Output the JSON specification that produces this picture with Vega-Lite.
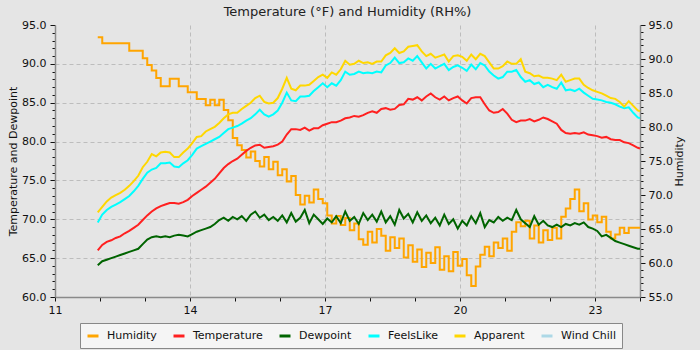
{
  "$schema": "https://vega.github.io/schema/vega-lite/v6.json",
  "width": 585,
  "height": 272,
  "autosize": "none",
  "padding": {"left": 55, "top": 25, "right": 60, "bottom": 53},
  "background": "#e5e5e5",
  "title": {"text": "Temperature (°F) and Humidity (RH%)", "font": "DejaVu Sans", "fontSize": 13, "fontWeight": "normal", "color": "#222222", "anchor": "middle", "offset": 0},
  "data": {"values": [
    {"t":11.95,"Humidity":93.2,"Temperature":66.0,"Dewpoint":64.1,"FeelsLike":69.6,"Apparent":70.9},
    {"t":12.05,"Humidity":92.3,"Temperature":66.7,"Dewpoint":64.6,"FeelsLike":70.6,"Apparent":71.6},
    {"t":12.15,"Humidity":92.3,"Temperature":67.1,"Dewpoint":64.8,"FeelsLike":71.2,"Apparent":72.3},
    {"t":12.25,"Humidity":92.3,"Temperature":67.3,"Dewpoint":65.0,"FeelsLike":71.6,"Apparent":72.8},
    {"t":12.35,"Humidity":92.3,"Temperature":67.6,"Dewpoint":65.2,"FeelsLike":71.9,"Apparent":73.1},
    {"t":12.45,"Humidity":92.3,"Temperature":67.8,"Dewpoint":65.4,"FeelsLike":72.2,"Apparent":73.4},
    {"t":12.55,"Humidity":92.3,"Temperature":68.2,"Dewpoint":65.6,"FeelsLike":72.6,"Apparent":73.8},
    {"t":12.65,"Humidity":91.2,"Temperature":68.5,"Dewpoint":65.8,"FeelsLike":73.0,"Apparent":74.3},
    {"t":12.75,"Humidity":91.2,"Temperature":68.9,"Dewpoint":66.0,"FeelsLike":73.6,"Apparent":74.9},
    {"t":12.85,"Humidity":91.2,"Temperature":69.3,"Dewpoint":66.2,"FeelsLike":74.3,"Apparent":75.6},
    {"t":12.95,"Humidity":90.1,"Temperature":69.9,"Dewpoint":66.8,"FeelsLike":75.2,"Apparent":76.7},
    {"t":13.05,"Humidity":89.1,"Temperature":70.5,"Dewpoint":67.4,"FeelsLike":76.0,"Apparent":77.4},
    {"t":13.15,"Humidity":88.3,"Temperature":71.0,"Dewpoint":67.7,"FeelsLike":76.4,"Apparent":78.4},
    {"t":13.25,"Humidity":87.2,"Temperature":71.4,"Dewpoint":67.8,"FeelsLike":76.6,"Apparent":78.1},
    {"t":13.35,"Humidity":86.0,"Temperature":71.7,"Dewpoint":67.7,"FeelsLike":77.2,"Apparent":78.6},
    {"t":13.45,"Humidity":86.0,"Temperature":71.9,"Dewpoint":67.8,"FeelsLike":77.2,"Apparent":78.7},
    {"t":13.55,"Humidity":87.1,"Temperature":72.1,"Dewpoint":67.7,"FeelsLike":77.3,"Apparent":78.6},
    {"t":13.65,"Humidity":87.1,"Temperature":72.1,"Dewpoint":67.9,"FeelsLike":76.8,"Apparent":78.0},
    {"t":13.75,"Humidity":86.0,"Temperature":72.0,"Dewpoint":68.0,"FeelsLike":76.7,"Apparent":78.0},
    {"t":13.85,"Humidity":86.0,"Temperature":72.2,"Dewpoint":67.9,"FeelsLike":77.2,"Apparent":78.6},
    {"t":13.95,"Humidity":85.1,"Temperature":72.5,"Dewpoint":67.8,"FeelsLike":77.6,"Apparent":79.1},
    {"t":14.05,"Humidity":85.1,"Temperature":73.0,"Dewpoint":68.1,"FeelsLike":78.3,"Apparent":79.8},
    {"t":14.15,"Humidity":84.1,"Temperature":73.4,"Dewpoint":68.4,"FeelsLike":79.1,"Apparent":80.6},
    {"t":14.25,"Humidity":84.1,"Temperature":73.8,"Dewpoint":68.6,"FeelsLike":79.4,"Apparent":80.7},
    {"t":14.35,"Humidity":83.2,"Temperature":74.2,"Dewpoint":68.8,"FeelsLike":79.7,"Apparent":81.3},
    {"t":14.45,"Humidity":84.0,"Temperature":74.7,"Dewpoint":69.0,"FeelsLike":80.0,"Apparent":81.6},
    {"t":14.55,"Humidity":83.2,"Temperature":75.2,"Dewpoint":69.4,"FeelsLike":80.3,"Apparent":81.9},
    {"t":14.65,"Humidity":84.0,"Temperature":75.9,"Dewpoint":69.9,"FeelsLike":80.6,"Apparent":82.4},
    {"t":14.75,"Humidity":82.5,"Temperature":76.6,"Dewpoint":70.2,"FeelsLike":81.1,"Apparent":83.0},
    {"t":14.85,"Humidity":81.0,"Temperature":77.1,"Dewpoint":69.8,"FeelsLike":81.6,"Apparent":83.5},
    {"t":14.95,"Humidity":78.4,"Temperature":77.5,"Dewpoint":70.3,"FeelsLike":81.8,"Apparent":83.7},
    {"t":15.05,"Humidity":77.3,"Temperature":77.8,"Dewpoint":70.0,"FeelsLike":82.0,"Apparent":83.7},
    {"t":15.15,"Humidity":76.6,"Temperature":78.3,"Dewpoint":70.4,"FeelsLike":82.3,"Apparent":84.2},
    {"t":15.25,"Humidity":75.5,"Temperature":78.8,"Dewpoint":69.8,"FeelsLike":82.7,"Apparent":84.6},
    {"t":15.35,"Humidity":76.4,"Temperature":79.2,"Dewpoint":70.6,"FeelsLike":83.0,"Apparent":85.0},
    {"t":15.45,"Humidity":75.0,"Temperature":79.5,"Dewpoint":71.0,"FeelsLike":83.5,"Apparent":85.6},
    {"t":15.55,"Humidity":74.2,"Temperature":79.6,"Dewpoint":70.2,"FeelsLike":84.1,"Apparent":85.9},
    {"t":15.65,"Humidity":75.6,"Temperature":79.2,"Dewpoint":70.6,"FeelsLike":83.5,"Apparent":85.1},
    {"t":15.75,"Humidity":73.8,"Temperature":79.3,"Dewpoint":69.9,"FeelsLike":83.2,"Apparent":84.9},
    {"t":15.85,"Humidity":74.9,"Temperature":79.4,"Dewpoint":70.3,"FeelsLike":83.5,"Apparent":85.0},
    {"t":15.95,"Humidity":72.9,"Temperature":79.6,"Dewpoint":69.8,"FeelsLike":84.0,"Apparent":85.6},
    {"t":16.05,"Humidity":73.8,"Temperature":80.0,"Dewpoint":70.5,"FeelsLike":85.0,"Apparent":86.8},
    {"t":16.15,"Humidity":72.0,"Temperature":80.9,"Dewpoint":69.6,"FeelsLike":86.3,"Apparent":88.2},
    {"t":16.25,"Humidity":72.8,"Temperature":81.6,"Dewpoint":70.8,"FeelsLike":85.3,"Apparent":86.8},
    {"t":16.35,"Humidity":70.0,"Temperature":81.6,"Dewpoint":69.7,"FeelsLike":85.2,"Apparent":86.6},
    {"t":16.45,"Humidity":68.6,"Temperature":81.5,"Dewpoint":70.2,"FeelsLike":85.8,"Apparent":87.2},
    {"t":16.55,"Humidity":69.9,"Temperature":81.8,"Dewpoint":71.2,"FeelsLike":85.8,"Apparent":87.2},
    {"t":16.65,"Humidity":68.9,"Temperature":81.4,"Dewpoint":69.5,"FeelsLike":85.9,"Apparent":87.3},
    {"t":16.75,"Humidity":70.8,"Temperature":81.7,"Dewpoint":70.6,"FeelsLike":86.5,"Apparent":87.8},
    {"t":16.85,"Humidity":69.4,"Temperature":81.7,"Dewpoint":70.0,"FeelsLike":87.0,"Apparent":88.3},
    {"t":16.95,"Humidity":68.8,"Temperature":82.1,"Dewpoint":69.4,"FeelsLike":87.5,"Apparent":88.6},
    {"t":17.05,"Humidity":67.0,"Temperature":82.3,"Dewpoint":70.1,"FeelsLike":87.0,"Apparent":88.2},
    {"t":17.15,"Humidity":65.8,"Temperature":82.5,"Dewpoint":69.6,"FeelsLike":87.5,"Apparent":88.9},
    {"t":17.25,"Humidity":66.9,"Temperature":82.5,"Dewpoint":70.4,"FeelsLike":87.2,"Apparent":88.6},
    {"t":17.35,"Humidity":65.6,"Temperature":82.7,"Dewpoint":69.5,"FeelsLike":87.9,"Apparent":89.3},
    {"t":17.45,"Humidity":66.6,"Temperature":83.0,"Dewpoint":71.0,"FeelsLike":89.0,"Apparent":90.4},
    {"t":17.55,"Humidity":64.8,"Temperature":83.1,"Dewpoint":69.8,"FeelsLike":88.6,"Apparent":89.9},
    {"t":17.65,"Humidity":65.8,"Temperature":83.3,"Dewpoint":70.3,"FeelsLike":88.7,"Apparent":90.0},
    {"t":17.75,"Humidity":63.5,"Temperature":83.2,"Dewpoint":69.4,"FeelsLike":89.0,"Apparent":90.4},
    {"t":17.85,"Humidity":62.7,"Temperature":83.4,"Dewpoint":70.8,"FeelsLike":88.8,"Apparent":90.1},
    {"t":17.95,"Humidity":64.6,"Temperature":83.7,"Dewpoint":69.9,"FeelsLike":88.9,"Apparent":90.2},
    {"t":18.05,"Humidity":63.0,"Temperature":83.9,"Dewpoint":70.6,"FeelsLike":88.8,"Apparent":90.0},
    {"t":18.15,"Humidity":65.0,"Temperature":83.7,"Dewpoint":69.7,"FeelsLike":89.0,"Apparent":90.3},
    {"t":18.25,"Humidity":64.0,"Temperature":84.2,"Dewpoint":71.0,"FeelsLike":88.9,"Apparent":90.3},
    {"t":18.35,"Humidity":61.8,"Temperature":84.3,"Dewpoint":69.6,"FeelsLike":89.8,"Apparent":91.1},
    {"t":18.45,"Humidity":63.8,"Temperature":84.1,"Dewpoint":70.4,"FeelsLike":90.1,"Apparent":91.4},
    {"t":18.55,"Humidity":62.2,"Temperature":84.2,"Dewpoint":69.3,"FeelsLike":90.8,"Apparent":92.0},
    {"t":18.65,"Humidity":63.6,"Temperature":84.7,"Dewpoint":71.2,"FeelsLike":90.1,"Apparent":91.4},
    {"t":18.75,"Humidity":60.8,"Temperature":84.8,"Dewpoint":70.1,"FeelsLike":90.2,"Apparent":91.6},
    {"t":18.85,"Humidity":62.6,"Temperature":85.5,"Dewpoint":70.7,"FeelsLike":90.7,"Apparent":92.2},
    {"t":18.95,"Humidity":60.2,"Temperature":85.4,"Dewpoint":69.6,"FeelsLike":90.4,"Apparent":92.3},
    {"t":19.05,"Humidity":62.0,"Temperature":85.7,"Dewpoint":70.9,"FeelsLike":91.0,"Apparent":92.4},
    {"t":19.15,"Humidity":59.4,"Temperature":85.3,"Dewpoint":69.8,"FeelsLike":90.2,"Apparent":91.6},
    {"t":19.25,"Humidity":61.5,"Temperature":85.8,"Dewpoint":70.5,"FeelsLike":89.4,"Apparent":91.0},
    {"t":19.35,"Humidity":60.0,"Temperature":86.2,"Dewpoint":69.5,"FeelsLike":90.0,"Apparent":91.3},
    {"t":19.45,"Humidity":62.3,"Temperature":85.7,"Dewpoint":70.2,"FeelsLike":89.4,"Apparent":90.8},
    {"t":19.55,"Humidity":59.0,"Temperature":85.4,"Dewpoint":69.2,"FeelsLike":89.7,"Apparent":91.0},
    {"t":19.65,"Humidity":61.0,"Temperature":85.8,"Dewpoint":70.6,"FeelsLike":90.0,"Apparent":91.2},
    {"t":19.75,"Humidity":58.8,"Temperature":85.3,"Dewpoint":69.4,"FeelsLike":89.2,"Apparent":90.3},
    {"t":19.85,"Humidity":61.6,"Temperature":85.6,"Dewpoint":70.0,"FeelsLike":89.6,"Apparent":91.0},
    {"t":19.95,"Humidity":59.6,"Temperature":85.8,"Dewpoint":68.8,"FeelsLike":89.8,"Apparent":91.1},
    {"t":20.05,"Humidity":60.6,"Temperature":85.3,"Dewpoint":69.8,"FeelsLike":89.5,"Apparent":90.9},
    {"t":20.15,"Humidity":58.2,"Temperature":84.9,"Dewpoint":69.2,"FeelsLike":89.1,"Apparent":90.4},
    {"t":20.25,"Humidity":56.6,"Temperature":85.6,"Dewpoint":70.4,"FeelsLike":89.9,"Apparent":91.2},
    {"t":20.35,"Humidity":59.5,"Temperature":85.7,"Dewpoint":69.5,"FeelsLike":89.3,"Apparent":90.6},
    {"t":20.45,"Humidity":61.2,"Temperature":85.7,"Dewpoint":70.8,"FeelsLike":90.1,"Apparent":91.3},
    {"t":20.55,"Humidity":62.4,"Temperature":84.8,"Dewpoint":69.0,"FeelsLike":89.8,"Apparent":91.0},
    {"t":20.65,"Humidity":61.0,"Temperature":84.0,"Dewpoint":69.9,"FeelsLike":89.0,"Apparent":90.2},
    {"t":20.75,"Humidity":63.0,"Temperature":83.7,"Dewpoint":69.6,"FeelsLike":88.5,"Apparent":89.4},
    {"t":20.85,"Humidity":62.2,"Temperature":83.8,"Dewpoint":70.3,"FeelsLike":88.1,"Apparent":89.4},
    {"t":20.95,"Humidity":63.6,"Temperature":84.2,"Dewpoint":69.8,"FeelsLike":88.3,"Apparent":89.7},
    {"t":21.05,"Humidity":61.8,"Temperature":83.6,"Dewpoint":70.2,"FeelsLike":89.0,"Apparent":90.3},
    {"t":21.15,"Humidity":64.6,"Temperature":82.8,"Dewpoint":69.9,"FeelsLike":89.0,"Apparent":90.0},
    {"t":21.25,"Humidity":66.0,"Temperature":82.5,"Dewpoint":71.2,"FeelsLike":89.2,"Apparent":90.0},
    {"t":21.35,"Humidity":65.4,"Temperature":82.7,"Dewpoint":70.0,"FeelsLike":88.3,"Apparent":90.6},
    {"t":21.45,"Humidity":66.2,"Temperature":82.7,"Dewpoint":69.5,"FeelsLike":87.7,"Apparent":89.0},
    {"t":21.55,"Humidity":63.6,"Temperature":82.9,"Dewpoint":69.0,"FeelsLike":87.9,"Apparent":88.8},
    {"t":21.65,"Humidity":65.5,"Temperature":82.6,"Dewpoint":70.4,"FeelsLike":87.4,"Apparent":88.4},
    {"t":21.75,"Humidity":63.0,"Temperature":82.8,"Dewpoint":69.3,"FeelsLike":87.6,"Apparent":88.5},
    {"t":21.85,"Humidity":64.8,"Temperature":83.1,"Dewpoint":69.8,"FeelsLike":87.0,"Apparent":88.2},
    {"t":21.95,"Humidity":63.4,"Temperature":82.9,"Dewpoint":69.2,"FeelsLike":87.3,"Apparent":88.2},
    {"t":22.05,"Humidity":65.2,"Temperature":82.6,"Dewpoint":69.0,"FeelsLike":87.0,"Apparent":88.1},
    {"t":22.15,"Humidity":63.6,"Temperature":82.3,"Dewpoint":69.3,"FeelsLike":86.8,"Apparent":87.9},
    {"t":22.25,"Humidity":66.8,"Temperature":81.5,"Dewpoint":69.0,"FeelsLike":87.6,"Apparent":88.6},
    {"t":22.35,"Humidity":68.0,"Temperature":81.1,"Dewpoint":69.4,"FeelsLike":86.6,"Apparent":87.7},
    {"t":22.45,"Humidity":69.4,"Temperature":81.0,"Dewpoint":69.2,"FeelsLike":86.7,"Apparent":87.9},
    {"t":22.55,"Humidity":70.8,"Temperature":81.1,"Dewpoint":69.5,"FeelsLike":86.5,"Apparent":88.1},
    {"t":22.65,"Humidity":67.6,"Temperature":81.0,"Dewpoint":69.3,"FeelsLike":86.8,"Apparent":88.1},
    {"t":22.75,"Humidity":68.8,"Temperature":81.2,"Dewpoint":69.6,"FeelsLike":86.3,"Apparent":87.3},
    {"t":22.85,"Humidity":66.4,"Temperature":80.9,"Dewpoint":69.0,"FeelsLike":85.9,"Apparent":86.9},
    {"t":22.95,"Humidity":67.0,"Temperature":80.8,"Dewpoint":68.8,"FeelsLike":85.5,"Apparent":86.6},
    {"t":23.05,"Humidity":66.0,"Temperature":80.7,"Dewpoint":68.5,"FeelsLike":85.4,"Apparent":86.4},
    {"t":23.15,"Humidity":66.8,"Temperature":80.5,"Dewpoint":67.8,"FeelsLike":85.3,"Apparent":86.2},
    {"t":23.25,"Humidity":64.6,"Temperature":80.6,"Dewpoint":68.0,"FeelsLike":85.1,"Apparent":85.9},
    {"t":23.35,"Humidity":63.6,"Temperature":80.3,"Dewpoint":67.6,"FeelsLike":85.0,"Apparent":85.6},
    {"t":23.45,"Humidity":64.2,"Temperature":80.2,"Dewpoint":67.2,"FeelsLike":84.8,"Apparent":85.5},
    {"t":23.55,"Humidity":65.2,"Temperature":80.2,"Dewpoint":67.0,"FeelsLike":84.5,"Apparent":85.1},
    {"t":23.65,"Humidity":64.4,"Temperature":79.9,"Dewpoint":66.8,"FeelsLike":84.3,"Apparent":84.5},
    {"t":23.75,"Humidity":65.2,"Temperature":79.8,"Dewpoint":66.6,"FeelsLike":84.4,"Apparent":85.2},
    {"t":23.85,"Humidity":65.2,"Temperature":79.5,"Dewpoint":66.4,"FeelsLike":83.7,"Apparent":84.6},
    {"t":23.95,"Humidity":65.2,"Temperature":79.2,"Dewpoint":66.2,"FeelsLike":83.1,"Apparent":84.0},
    {"t":24.0,"Humidity":65.2,"Temperature":79.1,"Dewpoint":66.2,"FeelsLike":83.0,"Apparent":83.9}
  ]},
  "encoding": {
    "x": {
      "field": "t", "type": "quantitative",
      "scale": {"domain": [11, 24], "nice": false, "zero": false},
      "axis": {
        "title": null,
        "values": [11,12,13,14,15,16,17,18,19,20,21,22,23,24],
        "labelExpr": "datum.value % 3 == 2 ? format(datum.value, 'd') : ''",
        "grid": true,
        "gridOpacity": {"condition": {"test": "datum.value % 3 == 2 && datum.value > 11", "value": 1}, "value": 0},
        "tickSize": 4,
        "labelPadding": 3
      }
    }
  },
  "layer": [
    {
      "mark": {"type": "line", "interpolate": "step-after", "strokeWidth": 2},
      "encoding": {
        "y": {
          "field": "Humidity", "type": "quantitative",
          "scale": {"domain": [55, 95], "nice": false, "zero": false},
          "axis": {
            "orient": "right",
            "title": "Humidity",
            "titleAngle": -90,
            "values": [55,56,57,58,59,60,61,62,63,64,65,66,67,68,69,70,71,72,73,74,75,76,77,78,79,80,81,82,83,84,85,86,87,88,89,90,91,92,93,94,95],
            "labelExpr": "datum.value % 5 == 0 ? format(datum.value, '.1f') : ''",
            "grid": false,
            "tickSize": {"condition": {"test": "datum.value % 5 == 0", "value": 5}, "value": 3},
            "labelPadding": 3,
            "titlePadding": 12
          }
        },
        "color": {"datum": "Humidity", "type": "nominal"}
      }
    },
    {
      "transform": [{"fold": ["Temperature", "Dewpoint", "FeelsLike", "Apparent"], "as": ["series", "value"]}],
      "mark": {"type": "line", "strokeWidth": 2},
      "encoding": {
        "y": {
          "field": "value", "type": "quantitative",
          "scale": {"domain": [60, 95], "nice": false, "zero": false},
          "axis": {
            "orient": "left",
            "title": "Temperature and Dewpoint",
            "values": [60,61,62,63,64,65,66,67,68,69,70,71,72,73,74,75,76,77,78,79,80,81,82,83,84,85,86,87,88,89,90,91,92,93,94,95],
            "labelExpr": "datum.value % 5 == 0 ? format(datum.value, '.1f') : ''",
            "grid": true,
            "gridOpacity": {"condition": {"test": "datum.value % 5 == 0 && datum.value > 60 && datum.value < 95", "value": 1}, "value": 0},
            "tickSize": {"condition": {"test": "datum.value % 5 == 0", "value": 5}, "value": 3},
            "labelPadding": 4,
            "titlePadding": 3
          }
        },
        "color": {
          "field": "series", "type": "nominal",
          "scale": {
            "domain": ["Humidity", "Temperature", "Dewpoint", "FeelsLike", "Apparent", "Wind Chill"],
            "range": ["#ffa500", "#ff2020", "#006400", "#00ffff", "#ffd700", "#add8e6"]
          },
          "legend": {
            "title": null,
            "orient": "none",
            "legendX": 25,
            "legendY": 298,
            "direction": "horizontal",
            "fillColor": "#f5f5f5",
            "strokeColor": "#888888",
            "padding": 6,
            "symbolType": "stroke",
            "symbolSize": 121,
            "symbolStrokeWidth": 3,
            "labelFont": "DejaVu Sans",
            "labelFontSize": 11,
            "labelColor": "#111111",
            "labelOffset": 7,
            "columnPadding": 10
          }
        }
      }
    }
  ],
  "resolve": {"scale": {"y": "independent"}},
  "config": {
    "view": {"stroke": null},
    "axis": {
      "labelFont": "DejaVu Sans",
      "labelFontSize": 11,
      "labelColor": "#111111",
      "titleFont": "DejaVu Sans",
      "titleFontSize": 11,
      "titleFontWeight": "normal",
      "titleColor": "#111111",
      "domainColor": "#8a8a8a",
      "domainWidth": 1.5,
      "tickColor": "#111111",
      "gridColor": "#bdbdbd",
      "gridDash": [4, 3],
      "labelOverlap": false,
      "labelFlush": false,
      "labelBound": false
    }
  }
}
